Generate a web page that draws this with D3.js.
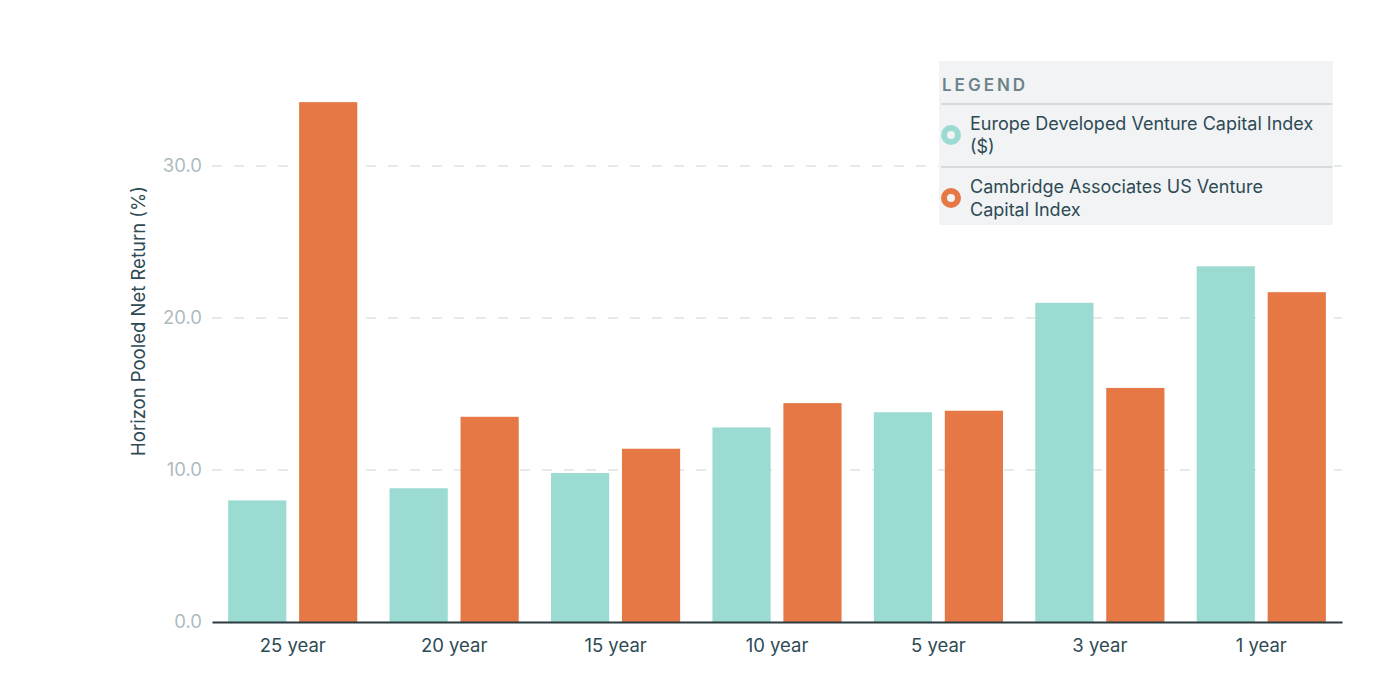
<!DOCTYPE html>
<html>
<head>
<meta charset="utf-8">
<script src="https://cdn.jsdelivr.net/npm/d3@7"></script>
<style>
  body { margin: 0; background: #fff; font-family: Inter, Roboto, sans-serif; }
  svg text { font-family: Inter, Roboto, sans-serif; }
</style>
</head>
<body>
<div id="chart"></div>
<script>
// horizons and series
const horizons = ['25 year', '20 year', '15 year', '10 year', '5 year', '3 year', '1 year'];
const seriesNames = ['Europe Developed Venture Capital Index ($)', 'Cambridge Associates US Venture Capital Index'];
const europeValues = [8.0, 8.8, 9.8, 12.8, 13.8, 21.0, 23.4];
const usValues = [34.2, 13.5, 11.4, 14.4, 13.9, 15.4, 21.7];
const yTicks = [0, 10, 20, 30];
const colors = ['#9bdbd2', '#e57845'];

const width = 1378, height = 690;
const margin = { top: 60, right: 36, bottom: 68, left: 212 };

const svg = d3.select('#chart').append('svg')
    .attr('width', width)
    .attr('height', height);

const rows = horizons.map((h, i) => ({ horizon: h, values: [europeValues[i], usValues[i]] }));

// scales
const x0 = d3.scaleBand(horizons, [margin.left, width - margin.right])
    .paddingInner(0.2).paddingOuter(0.1);
const x1 = d3.scaleBand([0, 1], [0, x0.bandwidth()]).paddingInner(0.18);
const y = d3.scaleLinear([0, 30], [622, 166]);

// gridlines
svg.append('g')
    .selectAll('line')
    .data(yTicks.filter(d => d > 0))
    .join('line')
    .attr('x1', margin.left)
    .attr('x2', width - margin.right)
    .attr('y1', d => y(d))
    .attr('y2', d => y(d))
    .attr('stroke', '#e0e3e5')
    .attr('stroke-width', 1.5)
    .attr('stroke-dasharray', '10,12');

// y tick labels
const axisY = svg.append('g')
    .attr('transform', `translate(${margin.left}, 0)`)
    .call(d3.axisLeft(y).tickValues(yTicks).tickFormat(d3.format('.1f')).tickSize(0).tickPadding(10));
axisY.select('.domain').remove();
axisY.selectAll('text')
    .attr('fill', '#adbbc1')
    .style('font-size', '18.5px');

// bars
const groups = svg.append('g')
    .selectAll('g')
    .data(rows)
    .join('g')
    .attr('transform', d => `translate(${x0(d.horizon)}, 0)`);

groups.selectAll('rect')
    .data(d => d.values.map((v, k) => ({ k, v })))
    .join('rect')
    .attr('x', d => x1(d.k))
    .attr('width', x1.bandwidth())
    .attr('y', d => y(d.v))
    .attr('height', d => y(0) - y(d.v))
    .attr('fill', d => colors[d.k]);

// x axis
const axisX = svg.append('g')
    .attr('transform', `translate(0, ${y(0)})`)
    .call(d3.axisBottom(x0).tickSize(0).tickPadding(17).tickSizeOuter(0));
axisX.select('.domain')
    .attr('stroke', '#2b3a3f')
    .attr('stroke-width', 2);
axisX.selectAll('text')
    .attr('fill', '#2e4a54')
    .style('font-size', '18.5px');

// y label
svg.append('text')
    .attr('transform', `translate(145, ${(180 + 462) / 2}) rotate(-90)`)
    .attr('text-anchor', 'middle')
    .attr('fill', '#2e4a54')
    .style('font-size', '18.5px')
    .text('Horizon Pooled Net Return (%)');

// legend
const legend = svg.append('g').attr('transform', 'translate(939, 61)');
legend.append('rect')
    .attr('width', 394).attr('height', 164)
    .attr('fill', '#f1f3f4');
legend.append('text')
    .attr('x', 3).attr('y', 30)
    .attr('fill', '#6e8289')
    .style('font-size', '17px')
    .style('font-weight', '600')
    .style('letter-spacing', '3px')
    .text('LEGEND');

const legendLines = [['Europe Developed Venture Capital Index', '($)'], ['Cambridge Associates US Venture', 'Capital Index']];
const itemTop = [43, 106];

legend.selectAll('line.sep')
    .data(itemTop)
    .join('line')
    .attr('class', 'sep')
    .attr('x1', 2).attr('x2', 393)
    .attr('y1', d => d).attr('y2', d => d)
    .attr('stroke', '#cdd2d4')
    .attr('stroke-width', 1.5);

const items = legend.selectAll('g.item')
    .data(seriesNames)
    .join('g')
    .attr('class', 'item')
    .attr('transform', (d, i) => `translate(0, ${itemTop[i]})`);

items.append('circle')
    .attr('cx', 12).attr('cy', 31)
    .attr('r', 7)
    .attr('fill', 'none')
    .attr('stroke', (d, i) => colors[i])
    .attr('stroke-width', 6);

items.append('text')
    .attr('fill', '#2e4a54')
    .style('font-size', '18px')
    .selectAll('tspan')
    .data((d, i) => legendLines[i])
    .join('tspan')
    .attr('x', 31)
    .attr('y', (d, j) => 26 + j * 23)
    .text(d => d);
</script>
</body>
</html>
